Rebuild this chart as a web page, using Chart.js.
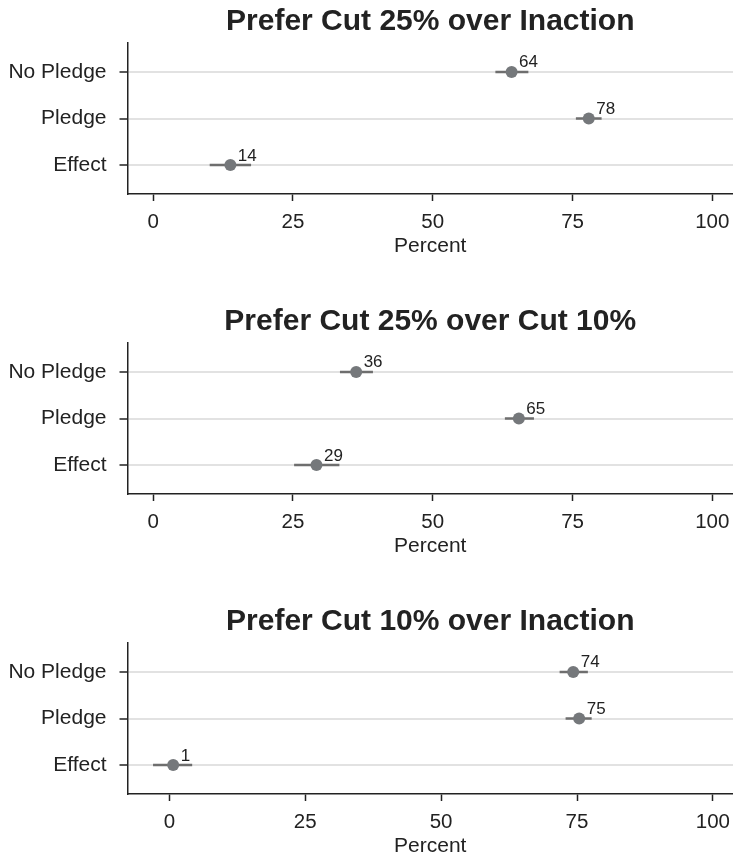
<!DOCTYPE html>
<html>
<head>
    <script src="https://cdn.jsdelivr.net/npm/chart.js"></script>
    <style>
        body { margin: 0; background: #fff; overflow: hidden; }
        .panel { position: relative; width: 733px; height: 300px; }
    </style>
</head>
<body>
    <div class="panel"><canvas id="c1"></canvas></div>
    <div class="panel"><canvas id="c2"></canvas></div>
    <div class="panel"><canvas id="c3"></canvas></div>

    <script>
        // données
        var rows = ['No Pledge', 'Pledge', 'Effect'];
        var titles = ['Prefer Cut 25% over Inaction', 'Prefer Cut 25% over Cut 10%', 'Prefer Cut 10% over Inaction'];
        var xTicks = [0, 25, 50, 75, 100];

        var est1 = [64.1, 77.9, 13.8];
        var lo1 = [61.2, 75.6, 10.1];
        var hi1 = [67.1, 80.2, 17.5];

        var est2 = [36.3, 65.4, 29.2];
        var lo2 = [33.4, 62.9, 25.2];
        var hi2 = [39.3, 68.1, 33.3];

        var est3 = [74.3, 75.4, 0.7];
        var lo3 = [71.8, 72.9, -3.0];
        var hi3 = [77.0, 77.7, 4.2];

        var xMins = [-4.6, -4.6, -7.7];
        var xMax = 103.7;

        var FONT = "'Liberation Sans', Arial, Helvetica, sans-serif";
        var INK = '#222';

        // étiquettes de valeur à côté des points
        var valueLabels = {
            id: 'valueLabels',
            afterDatasetsDraw: function(chart) {
                var ctx = chart.ctx;
                var meta = chart.getDatasetMeta(0);
                ctx.save();
                ctx.font = '17px ' + FONT;
                ctx.fillStyle = INK;
                ctx.textAlign = 'left';
                ctx.textBaseline = 'alphabetic';
                meta.data.forEach(function(pt, i) {
                    var v = chart.data.datasets[0].data[i].x;
                    ctx.fillText(String(Math.round(v)), pt.x + 7.5, pt.y - 4.5);
                });
                ctx.restore();
            }
        };

        function makePanel(id, title, est, lo, hi, xMin) {
            var datasets = [{
                data: est.map(function(v, i) { return { x: v, y: i + 1 }; }),
                pointRadius: 6,
                pointBackgroundColor: '#75787b',
                pointBorderWidth: 0,
                showLine: false
            }];
            for (var i = 0; i < est.length; i++) {
                datasets.push({
                    data: [{ x: lo[i], y: i + 1 }, { x: hi[i], y: i + 1 }],
                    showLine: true,
                    borderColor: '#6e6e6e',
                    borderWidth: 2.5,
                    pointRadius: 0
                });
            }

            return new Chart(document.getElementById(id), {
                type: 'scatter',
                data: { datasets: datasets },
                plugins: [valueLabels],
                options: {
                    responsive: true,
                    maintainAspectRatio: false,
                    animation: false,
                    layout: { autoPadding: false, padding: { left: 0, right: 0, top: 0, bottom: 37 } },
                    plugins: {
                        legend: { display: false },
                        tooltip: { enabled: false },
                        title: {
                            display: true,
                            text: title,
                            fullSize: false,
                            color: INK,
                            font: { family: FONT, size: 30, weight: 'bold', lineHeight: 1.2 },
                            padding: { top: 4, bottom: 3 }
                        }
                    },
                    scales: {
                        x: {
                            type: 'linear',
                            position: 'bottom',
                            min: xMin,
                            max: xMax,
                            afterBuildTicks: function(scale) {
                                scale.ticks = xTicks.map(function(v) { return { value: v }; });
                            },
                            afterFit: function(scale) {
                                scale.height = 69;
                                scale.paddingLeft = 0;
                                scale.paddingRight = 0;
                            },
                            grid: { drawOnChartArea: false, tickLength: 7, tickColor: INK, tickWidth: 1.5 },
                            border: { color: INK, width: 1.5 },
                            ticks: { color: INK, padding: 9, maxRotation: 0, font: { family: FONT, size: 20.5 } },
                            title: {
                                display: true,
                                text: 'Percent',
                                color: INK,
                                font: { family: FONT, size: 21 },
                                padding: { top: 4, bottom: 4 }
                            }
                        },
                        y: {
                            type: 'linear',
                            reverse: true,
                            min: 0.38,
                            max: 3.62,
                            afterBuildTicks: function(scale) {
                                scale.ticks = [1, 2, 3].map(function(v) { return { value: v }; });
                            },
                            afterFit: function(scale) { scale.width = 127.5; },
                            grid: { color: '#e2e2e2', lineWidth: 2, tickLength: 8, tickColor: INK, tickWidth: 1.5 },
                            border: { color: INK, width: 1.5 },
                            ticks: {
                                color: INK,
                                padding: 13,
                                font: { family: FONT, size: 21 },
                                callback: function(v) { return rows[v - 1]; }
                            }
                        }
                    }
                }
            });
        }

        makePanel('c1', titles[0], est1, lo1, hi1, xMins[0]);
        makePanel('c2', titles[1], est2, lo2, hi2, xMins[1]);
        makePanel('c3', titles[2], est3, lo3, hi3, xMins[2]);
    </script>
</body>
</html>
